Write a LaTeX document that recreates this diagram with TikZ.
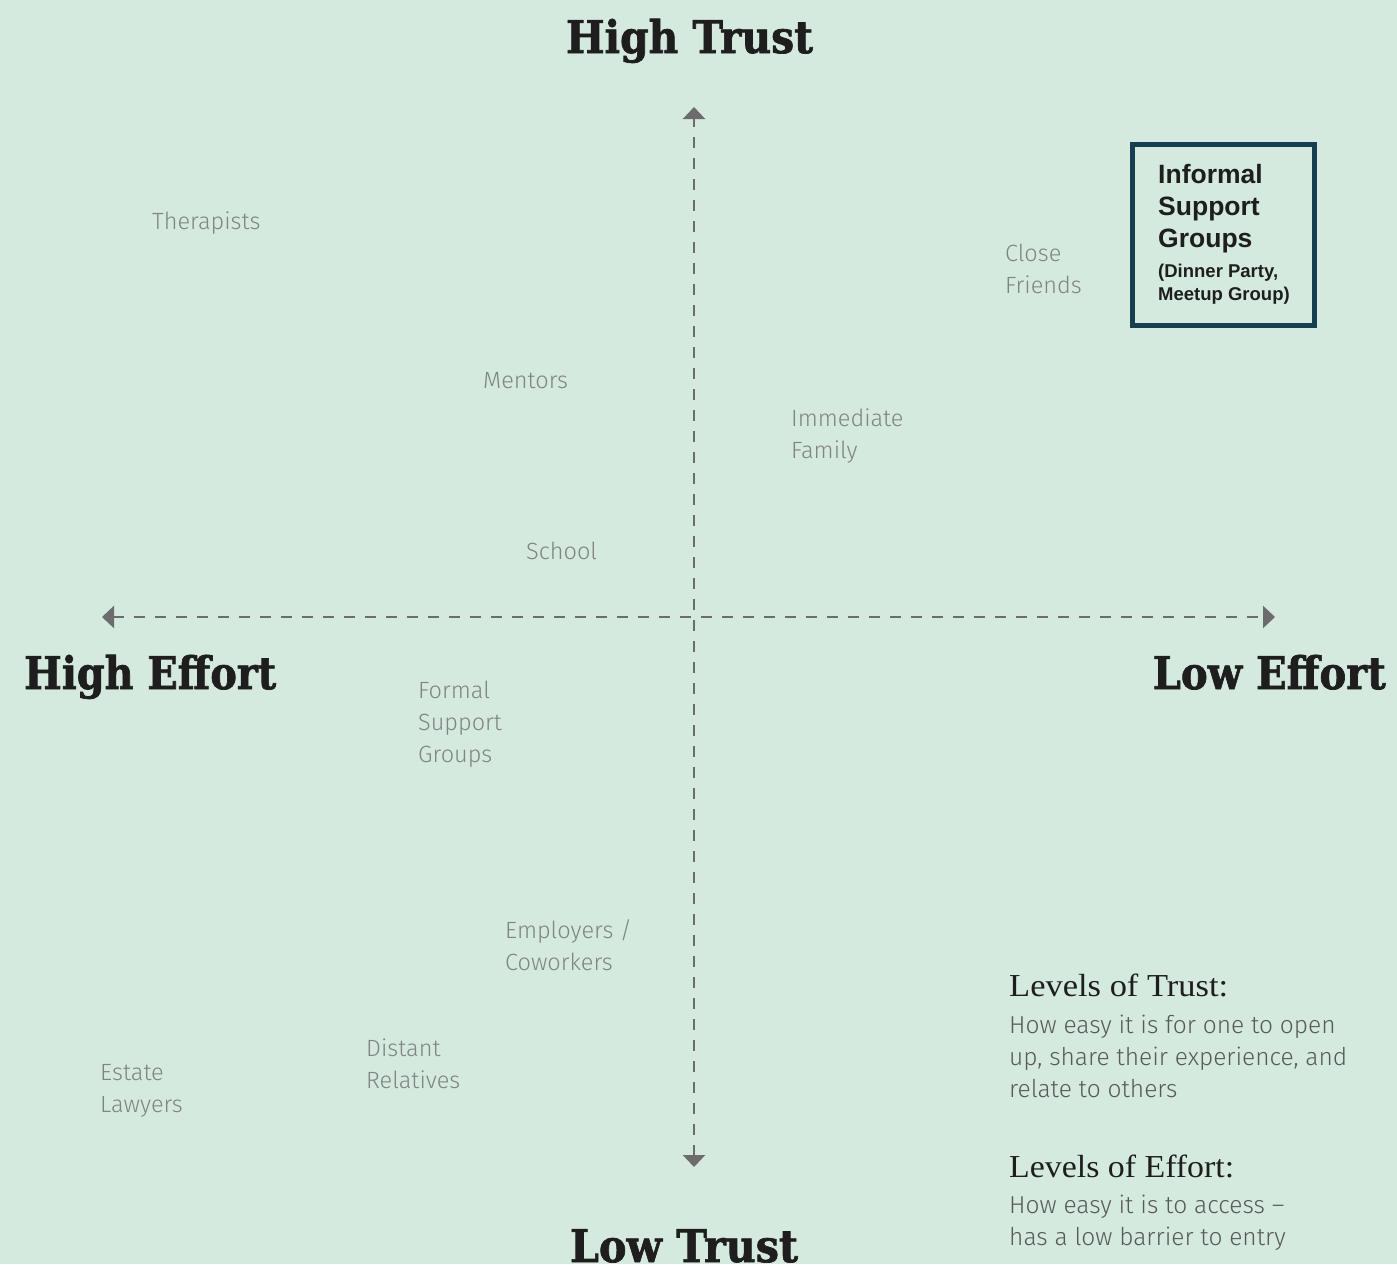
\documentclass[tikz,border=0pt]{standalone}
\usepackage{fontspec}
\usetikzlibrary{arrows.meta}

\newfontfamily\titlefont{DejaVu Serif}[BoldFeatures={FakeBold=1.6}]
\newfontfamily\headfont{Liberation Serif}
\newfontfamily\lightfont{Fira Sans Light}
\newfontfamily\boxfont{Liberation Sans}

\definecolor{bgmint}{RGB}{213,234,222}
\definecolor{axisgray}{RGB}{108,108,108}
\definecolor{labelgray}{RGB}{128,132,130}
\definecolor{bodygray}{RGB}{88,90,89}
\definecolor{inkdark}{RGB}{30,30,30}
\definecolor{boxteal}{RGB}{22,64,82}

% title set to a given width, natural height kept
\newcommand\axistitle[2]{\resizebox{#1}{\height}{\fontsize{45bp}{45bp}\titlefont\bfseries #2}}
\newcommand\legendhead[2]{\resizebox{#1}{\height}{\fontsize{32bp}{32bp}\headfont #2}}

\tikzset{
  axis/.style={draw=axisgray, line width=2.5bp, dash pattern=on 11bp off 10bp,
    {Triangle[width=22bp,length=12bp,fill=axisgray]}-{Triangle[width=22bp,length=12bp,fill=axisgray]}},
  quadlabel/.style={anchor=base west, inner sep=0pt, align=left, text=labelgray,
    font=\lightfont\fontsize{23.5bp}{32bp}\selectfont},
  legendbody/.style={anchor=base west, inner sep=0pt, align=left, text=bodygray,
    font=\lightfont\fontsize{24.5bp}{32bp}\selectfont},
  titlenode/.style={anchor=base, inner sep=0pt, text=inkdark},
}

\begin{document}
\begin{tikzpicture}[x=1bp,y=-1bp]
  % canvas
  \fill[bgmint] (0,0) rectangle (1397,1264);
  \useasboundingbox (0,0) rectangle (1397,1264);

  % axes
  \coordinate (trusttop) at (694,107);
  \coordinate (trustbot) at (694,1167);
  \coordinate (effleft) at (102,617);
  \coordinate (effright) at (1275,617);
  \draw[axis] (trustbot) -- (trusttop);
  \draw[axis] (effleft) -- (effright);

  % axis titles
  \node[titlenode] (hightrust) at (689.5,53) {\axistitle{247bp}{High Trust}};
  \node[titlenode] (lowtrust) at (684,1262) {\axistitle{228bp}{Low Trust}};
  \node[titlenode, anchor=base west] (higheffort) at (24,689) {\axistitle{252bp}{High Effort}};
  \node[titlenode, anchor=base east] (loweffort) at (1386,689) {\axistitle{233bp}{Low Effort}};

  % sources of support (positioned on the baseline of their last line)
  \node[quadlabel] (therapists) at (152,229) {Therapists};
  \node[quadlabel] (friends) at (1005,293) {Close\\Friends};
  \node[quadlabel] (mentors) at (483,388) {Mentors};
  \node[quadlabel] (family) at (791,458) {Immediate\\Family};
  \node[quadlabel] (school) at (526,559) {School};
  \node[quadlabel] (formal) at (418,762) {Formal\\Support\\Groups};
  \node[quadlabel] (employers) at (505,970) {Employers /\\Coworkers};
  \node[quadlabel] (relatives) at (366,1088) {Distant\\Relatives};
  \node[quadlabel] (lawyers) at (100,1112) {Estate\\Lawyers};

  % highlighted box
  \draw[boxteal, line width=5bp] (1132.5,144.5) rectangle (1314.5,325.5);
  \node[anchor=base west, inner sep=0pt, align=left, text=inkdark,
        font=\boxfont\bfseries\fontsize{26.5bp}{32bp}\selectfont] (informal) at (1158,247)
        {Informal\\Support\\Groups};
  \node[anchor=base west, inner sep=0pt, align=left, text=inkdark,
        font=\boxfont\bfseries\fontsize{18.5bp}{23bp}\selectfont] (examples) at (1158,300)
        {(Dinner Party,\\Meetup Group)};

  % legend
  \node[anchor=base west, inner sep=0pt, text=inkdark] (trusthead) at (1009,996)
        {\legendhead{219bp}{Levels of Trust:}};
  \node[legendbody] (trustbody) at (1009,1097)
        {How easy it is for one to open\\up, share their experience, and\\relate to others};
  \node[anchor=base west, inner sep=0pt, text=inkdark] (efforthead) at (1009,1177)
        {\legendhead{225bp}{Levels of Effort:}};
  \node[legendbody] (effortbody) at (1009,1245)
        {How easy it is to access –\\has a low barrier to entry};
\end{tikzpicture}
\end{document}
